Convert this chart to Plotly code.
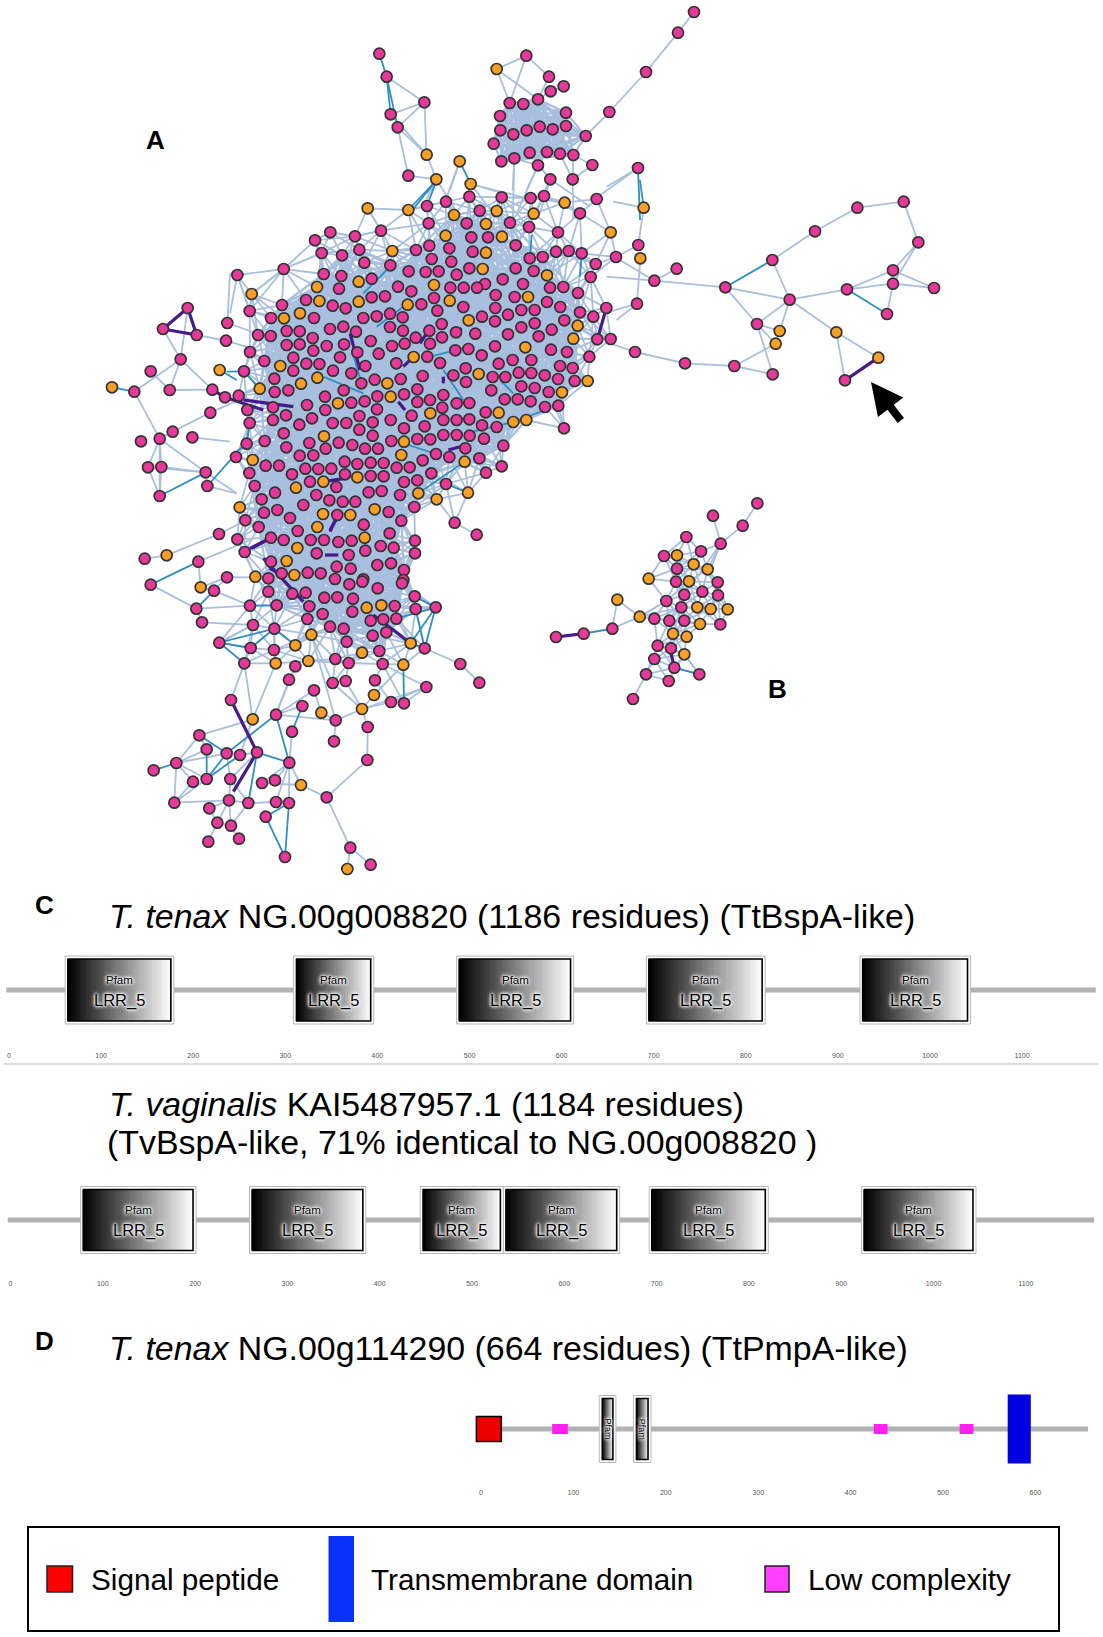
import numpy as np
import plotly.graph_objects as go

PAGE_W, PAGE_H = 1103, 1637

core_origin = (230, 180)
core_pink = [
    (591,78),(648,65),(718,50),(815,52),(902,54),(942,48),(1100,57),(749,92),(1050,100),
    (453,152),(596,130),(710,130),(840,128),(897,141),(301,157),(984,157),(724,172),(774,172),(375,169),(255,181),
    (857,196),(598,197),(658,205),(558,210),(728,215),(388,209),(275,219),(336,226),(605,237),(978,215),(1016,213),(1055,220),(899,235),(938,231),(1158,231),
    (161,267),(22,285),(403,248),(481,256),(664,245),(718,265),(857,265),(911,273),(1097,252),(536,274),(587,276),(626,274),(680,284),(281,282),(334,288),(425,296),(818,298),(765,312),(1082,291),
    (504,320),(879,312),(661,323),(701,323),(741,323),(960,323),(1000,321),(327,326),(544,334),(1044,339),(797,345),(854,351),(425,352),(465,349),(228,360),(612,354),
    (156,375),(574,373),(308,377),(347,385),(700,381),(796,384),(951,366),(991,381),(874,390),(914,390),(59,393),(622,392),(1129,384),(1050,397),(1090,410),(480,401),(834,404),(756,410),(518,412),(400,414),(440,409),(123,414),(252,414),
    (795,424),(1003,421),(635,432),(914,430),(340,440),(300,447),(480,441),(874,442),(965,449),(519,452),(378,455),(598,452),(170,453),(209,454),(678,457),(736,461),(834,463),(84,465),(122,468),(248,474),(636,472),(557,473),(926,469),(1102,478),(1142,477),
    (422,483),(342,493),(290,498),(486,498),(524,491),(600,491),(170,495),(209,493),(795,499),(676,511),(715,507),(60,516),(250,512),(382,517),(963,509),(1011,516),(446,521),(592,530),(755,526),(1078,530),(190,533),(330,532),(103,543),(904,540),
    (848,540),(229,551),(268,552),(406,558),(499,550),(630,549),(806,551),(990,558),(707,565),(1028,564),(42,574),(190,572),(309,572),(364,580),(670,586),(788,591),(578,588),(826,591),(866,578),(904,579),(944,586),(984,597),(133,596),(434,599),(512,597),(1034,603),
    (394,610),(708,606),(134,636),(175,631),(874,619),(914,624),(956,636),(784,631),(562,628),(341,631),(285,650),(442,649),(522,643),(26,647),(640,645),(863,658),(824,658),(902,664),
    (364,668),(404,664),(562,666),(600,660),(718,669),(680,670),(637,683),(129,682),(231,675),(945,681),(985,677),(52,690),(286,690),(441,688),(767,697),(545,707),(168,706),(640,720),(680,720),(718,718),(482,720),(246,715),(59,729),(388,708),
    (129,720),(208,734),(308,729),(349,729),(756,736),(800,741),(1002,745),(584,739),(522,745),(388,749),(428,727),(161,760),(680,765),(640,765),(719,767),(428,767),(104,783),(762,776),(601,778),(562,777),(484,783),
    (50,791),(238,789),(326,788),(367,795),(169,802),(287,806),(405,806),(444,806),(706,805),(820,797),(618,822),(209,827),(250,826),(18,831),(658,831),(748,835),(578,841),(344,845),(382,852),(422,848),(461,849),
    (107,857),(147,857),(226,866),(265,867),(304,866),(500,863),(539,862),(815,859),(58,879),(768,878),(186,883),(345,883),(422,888),(461,889),(604,880),
    (240,905),(522,906),(562,901),(74,918),(319,921),(648,912),(416,937),(455,933),(135,938),(510,945),(259,945),
    (95,958),(298,961),(338,965),(376,965),(220,975),(553,981),(142,990),(476,996),(102,998),(322,1005),(180,1014),(514,1022),(46,1021),
    (674,1028),(401,1034),(86,1041),(203,1053),(479,1060),(740,1064),(123,1073),(22,1078),(161,1080),(242,1080),(282,1080),(325,1086),(365,1082),(555,1082),
    (452,1098),(491,1103),(44,1116),(260,1120),(406,1112),(555,1120),(356,1125),(123,1145),(442,1155),(483,1150),(320,1160),(362,1166),(522,1170),(155,1180),(233,1178),(272,1180),(115,1195),(400,1198),(520,1200),
]
core_orange = [
    (413,85),(535,90),(1004,68),(672,105),(800,93),(911,101),(768,132),(1142,157),(647,167),(816,170),(487,213),(768,218),(758,267),(386,305),(951,286),
    (612,315),(261,321),(65,342),(894,351),(268,363),(386,365),(659,362),(533,374),(210,400),(162,415),(716,421),(1043,437),(1030,476),(886,502),(551,531),
    (151,558),(746,582),(262,593),(1073,603),(472,610),(213,611),(89,626),(996,637),(482,650),(324,670),(806,698),(601,700),(850,726),(889,720),(282,769),(522,785),
    (514,825),(68,840),(704,845),(382,892),(280,905),(198,923),(565,940),(714,938),(620,958),(29,982),(434,988),(279,1002),(361,1005),(262,1041),(404,1073),
    (202,1104),(170,1143),(193,1185),(76,1190),
]

south_origin = (100, 500)
south_mid_pink = [
    (705,237),(748,253),(787,245),(833,265),(906,250),(505,275),(577,281),(617,278),(673,293),(712,292),(759,296),(450,317),(530,316),(628,319),(944,289),(1007,322),(947,327),(884,318),(757,335),(668,342),(622,357),(812,362),(850,358),(889,356),(459,375),(523,386),(690,380),(731,386),(859,397),(818,407),(740,425),(358,428),(452,444),(522,450),(974,445),(838,453),(706,477),(746,489),(848,492),(433,490),
]
south_mid_orange = [(844,316),(800,323),(634,404),(586,436),(932,430),(786,458),(910,494),(527,490),(625,483)]
south_low_pink = [
    (357,102),(134,176),(295,185),(381,232),(152,254),(342,272),(289,326),(306,367),
    (1081,492),(586,499),(567,539),(698,549),(737,543),(825,541),(979,561),(1138,548),(642,571),(873,606),(912,610),(393,600),(607,618),(528,644),(707,661),(803,681),(576,695),(702,724),(298,706),(320,748),(380,760),(420,765),(471,757),(229,789),(161,811),(568,788),(802,780),(279,845),(320,837),(391,837),(486,849),(525,841),(680,892),(223,908),(387,901),(445,909),(528,906),(567,909),(328,925),(497,950),(352,968),(393,977),(325,1025),(417,1016),(555,1071),(751,1043),(812,1094),
]
south_low_orange = [(200,166),(302,262),(822,585),(664,638),(786,627),(458,658),(603,855),(742,1107)]

west_origin = (90, 240)
west_pink = [(293,204),(219,267),(320,285),(412,249),(408,302),(272,358),(182,394),(133,455),(239,450),(367,449),(405,472),(361,518),(248,575),(153,604),(209,596),(307,592),(174,682),(214,681),(347,697),(352,738),(209,768)]
west_orange = [(66,442),(389,390)]

north_origin = (360, 0)
north_pink = [(58,161),(80,230),(193,307),(92,343),(113,382),(145,527),(499,167),(567,230),(611,259),(572,274),(534,298),(449,309),(490,312),(618,338),(420,348),(748,336),(858,216),(954,98),(1002,36),(421,391),(460,403),(500,391),(539,380),(578,388),(618,378),(677,408),(401,431),(424,484),(463,475),(509,458),(561,456),(600,461),(640,465),(697,495),(534,496),(571,538),(638,538),(834,504)]
north_orange = [(200,464),(229,538),(299,484),(332,552),(410,207)]
# the dense block at the top of the network, linked all-to-all below
north_block = [(449,309),(490,312),(534,298),(618,338),(420,348),(421,391),(460,403),(500,391),(539,380),(578,388),(618,378),(677,408),(401,431),(424,484),(463,475),(509,458),(561,456),(600,461),(640,465)]

east_origin = (620, 180)
east_pink = [(55,195),(103,302),(170,266),(51,371),(45,516),(195,550),(343,558),(458,583),(411,432),(316,322),(457,240),(509,359),(585,154),(712,83),(851,65),(895,187),(819,271),(819,311),(942,324),(681,328),(801,402),(675,601)]
east_orange = [(71,83),(61,235),(479,453),(467,491),(649,457),(775,533)]

b_origin = (540, 490)
b_pink = [(652,40),(519,77),(608,107),(542,161),(439,141),(372,198),(483,184),(411,236),(408,275),(533,277),(433,314),(487,305),(534,316),(379,333),(424,352),(343,386),(388,392),(433,392),(541,403),(217,416),(131,431),(48,441),(353,467),(393,475),(343,507),(403,533),(478,553),(318,553),(386,573),(279,627)]
b_orange = [(411,196),(461,223),(503,238),(326,266),(447,274),(232,329),(472,352),(512,357),(563,358),(299,380),(480,402),(399,431),(440,440),(433,493)]

north_light = [((80,230),(193,307)),((92,343),(193,307)),((113,382),(193,307)),((193,307),(200,464)),((113,382),(200,464)),((92,343),(200,464)),((113,382),(145,527)),((200,464),(229,538)),((145,527),(229,538)),((299,484),(270,570)),((332,552),(430,580)),((410,207),(499,167)),((410,207),(449,309)),((410,207),(534,298)),((499,167),(449,309)),((499,167),(567,230)),((567,230),(534,298)),((1002,36),(954,98)),((954,98),(858,216)),((858,216),(748,336)),((748,336),(677,408)),((697,495),(640,465)),((534,496),(571,538)),((640,465),(638,538)),((600,461),(638,538)),((463,475),(458,570)),((534,496),(500,570)),((571,538),(555,570)),((697,495),(638,538)),((534,496),(463,475)),((534,496),(561,456)),((571,538),(509,458)),((677,408),(640,465)),
    ((834,504),(740,560)),((229,538),(300,650)),((229,538),(190,620)),((332,552),(400,640)),((332,552),(520,600)),((299,484),(250,620)),((463,475),(458,680)),((534,496),(470,640)),((571,538),(540,640)),((638,538),(640,660)),((571,538),(690,620)),((834,504),(700,600)),((611,259),(572,274)),((572,274),(534,298))]
north_dark = [((58,161),(80,230)),((80,230),(92,343)),((80,230),(113,382)),((229,538),(200,580)),((229,538),(150,640)),((299,484),(332,552)),((834,504),(840,660))]

east_light = [((71,83),(-20,65)),((71,83),(55,195)),((55,195),(-10,230)),((61,235),(51,371)),((103,302),(170,266)),((103,302),(316,322)),((103,302),(-40,290)),((103,302),(0,240)),((-30,395),(51,371)),((51,371),(-10,420)),((45,516),(-30,490)),((45,516),(195,550)),((195,550),(343,558)),((343,558),(458,583)),((343,558),(467,491)),((458,583),(411,432)),((411,432),(509,359)),((411,432),(479,453)),((411,432),(467,491)),((316,322),(411,432)),((316,322),(509,359)),((457,240),(509,359)),((457,240),(585,154)),((585,154),(712,83)),((712,83),(851,65)),((851,65),(895,187)),((895,187),(819,271)),((895,187),(819,311)),((819,271),(681,328)),((819,311),(681,328)),((819,271),(942,324)),((819,311),(942,324)),((819,311),(801,402)),((681,328),(509,359)),((509,359),(649,457)),((509,359),(479,453)),((649,457),(775,533)),((649,457),(675,601))]
east_dark = [((71,83),(60,0)),((316,322),(457,240)),((681,328),(801,402))]
east_purple = [((775,533),(675,601))]

west_light = [((219,267),(272,358)),((293,204),(272,358)),((320,285),(408,302)),((272,358),(133,455)),((272,358),(239,450)),((272,358),(367,449)),((182,394),(239,450)),((133,455),(209,596)),((239,450),(367,449)),((361,518),(248,575)),((248,575),(209,596)),((307,592),(420,605)),((209,596),(174,682)),((209,596),(214,681)),((209,596),(209,768)),((209,596),(347,697)),((174,682),(209,768)),((214,681),(209,768)),((214,681),(347,697)),((174,682),(347,697)),((347,697),(352,738)),((408,302),(500,330)),((347,697),(440,760)),((352,738),(440,760)),((412,249),(420,100)),((412,249),(500,280)),((361,518),(470,470))]
west_dark = [((66,442),(133,455)),((389,390),(440,420)),((209,768),(347,697)),((352,738),(430,650))]
west_purple = [((293,204),(219,267)),((219,267),(320,285)),((293,204),(320,285)),((367,449),(405,472)),((405,472),(520,510))]

core_light = [((22,285),(161,267)),((161,267),(255,181)),((161,267),(275,219)),((22,285),(59,393)),((65,342),(161,267)),((59,393),(161,267)),((22,285),(0,400)),((301,157),(375,169)),((375,169),(453,152)),((453,152),(596,130)),((413,85),(453,152)),((255,181),(301,157)),((255,181),(336,226)),((487,213),(596,130)),((65,342),(59,393))]
core_dark = [((535,90),(620,0)),((591,78),(620,0)),((440,440),(520,380)),((365,510),(395,610)),((280,590),(400,640)),((600,530),(720,500)),((520,790),(618,822)),((700,660),(640,570)),((810,600),(850,640)),((850,726),(945,690)),((705,760),(850,726)),((565,940),(704,845)),((648,912),(714,938)),((-10,575),(42,574)),((42,574),(89,626)),((59,729),(50,791)),((50,791),(0,830)),((1055,220),(1050,290)),((470,270),(400,340)),((905,165),(900,235))]
core_purple = [((360,460),(390,570)),((520,560),(550,530)),((505,665),(525,690)),((570,490),(590,460)),((640,590),(640,610)),((695,445),(678,457)),((655,810),(690,800)),((280,905),(345,895)),((65,1105),(120,1075)),((300,1050),(322,1010)),((285,1125),(325,1125)),((118,1165),(140,1175)),((1129,384),(1102,478)),((40,660),(190,680))]

south_light = [((433,490),(393,600)),((433,490),(458,658)),((527,490),(458,658)),((567,539),(528,644)),((586,499),(528,644)),((642,571),(528,644)),((642,571),(664,638)),((607,618),(528,644)),((528,644),(707,661)),((458,658),(298,706)),((458,658),(420,765)),((576,695),(568,788)),((420,765),(471,757)),((298,706),(229,789)),((298,706),(320,748)),((229,789),(320,748)),((229,789),(380,760)),((229,789),(223,908)),((229,789),(279,845)),((229,789),(320,837)),((223,908),(320,837)),((223,908),(279,845)),((223,908),(387,901)),((380,760),(391,837)),((391,837),(471,757)),((387,901),(391,837)),((387,901),(445,909)),((387,901),(328,925)),((387,901),(352,968)),((387,901),(393,977)),((391,837),(445,909)),((445,909),(393,977)),((445,909),(528,906)),((486,849),(568,788)),((525,841),(568,788)),((486,849),(603,855)),((568,788),(603,855)),((568,788),(528,906)),((568,788),(567,909)),((603,855),(680,892)),((680,892),(802,780)),((802,780),(803,681)),((803,681),(786,627)),((680,892),(751,1043)),((751,1043),(742,1107)),((751,1043),(812,1094)),((528,906),(567,909)),((352,968),(325,1025)),((393,977),(417,1016)),((352,968),(393,977)),((328,925),(352,968)),((707,661),(702,724)),((707,661),(664,638)),((707,661),(786,627)),((786,627),(873,606)),((786,627),(822,585)),((786,627),(979,561)),((873,606),(979,561)),((912,610),(979,561)),((822,585),(910,494)),((848,492),(979,561)),((848,492),(912,610)),((825,541),(873,606)),((825,541),(848,492)),((698,549),(786,627)),((737,543),(786,627)),((698,549),(746,489)),((737,543),(746,489)),((706,477),(698,549)),((634,404),(707,661)),((634,404),(698,549)),((974,445),(1081,492)),((1081,492),(1138,548)),((289,326),(450,317)),((289,326),(306,367)),((289,326),(152,254)),((295,185),(302,262)),((381,232),(342,272)),((342,272),(302,262)),((302,262),(381,232)),((342,272),(450,317)),((200,166),(357,102)),((134,176),(200,166)),((357,102),(440,60)),((381,232),(466,232)),((306,367),(459,375)),((358,428),(459,375)),((358,428),(450,317)),((295,185),(450,120))]
south_dark = [((528,644),(568,788)),((528,644),(380,760)),((607,618),(576,695)),((471,757),(568,788)),((298,706),(380,760)),((229,789),(161,811)),((320,748),(320,837)),((380,760),(320,837)),((420,765),(320,837)),((471,757),(445,909)),((497,950),(567,909)),((497,950),(555,1071)),((567,909),(555,1071)),((912,610),(910,494)),((974,445),(932,430)),((974,445),(1007,322)),((932,430),(1007,322)),((947,327),(974,445)),((1007,322),(889,356)),((944,289),(1007,322)),((358,428),(452,444)),((358,428),(523,386)),((358,428),(433,490)),((452,444),(523,386)),((523,386),(586,436)),((450,317),(530,316)),((152,254),(295,185)),((342,272),(289,326))]
south_purple = [((820,345),(932,430)),((393,600),(471,757)),((471,757),(400,875)),((490,175),(610,305)),((450,145),(510,115)),((690,95),(707,60))]

b_light = [((542,161),(510,240)),((439,141),(411,196)),((299,380),(379,333)),((424,352),(299,380)),((478,553),(433,493)),((433,314),(542,161))]
b_dark = [((217,416),(131,431)),((478,553),(403,533))]
b_purple = [((131,431),(48,441)),((403,533),(393,490))]

# ---------- Domain tracks (residues) ----------

tick_residues = list(range(0, 1200, 100))
tick_labels_d = list(range(0, 700, 100))

tenax_domains = [(61, 179), (309, 396), (486, 613), (692, 821), (924, 1044)]
vaginalis_domains = [(76, 201), (259, 385), (444, 534), (534, 660), (692, 821), (922, 1046)]
pmpa_pfam = [(128, 146), (165, 184)]
pmpa_low_complexity = [(77, 94), (425, 440), (518, 533)]
pmpa_signal = (-5, 22)
pmpa_tm = (570, 595)

title_tenax = "<i>T. tenax</i> NG.00g008820 (1186 residues) (TtBspA-like)"
title_vag1 = "<i>T. vaginalis</i> KAI5487957.1 (1184 residues)"
title_vag2 = "(TvBspA-like, 71% identical to NG.00g008820 )"
title_pmpa = "<i>T. tenax</i> NG.00g114290 (664 residues) (TtPmpA-like)"

legend_labels = ["Signal peptide", "Transmembrane domain", "Low complexity"]

# ---------- Helpers ----------

def to_page(points, origin):
    return [(origin[0] + x / 3, origin[1] + y / 3) for x, y in points]

def edges_to_page(edges, origin):
    return [(origin[0] + a[0] / 3, origin[1] + a[1] / 3, origin[0] + b[0] / 3, origin[1] + b[1] / 3) for a, b in edges]

# Light edges inside the dense parts cannot be traced one by one: they are linked by node distance.
def near_links(points, max_dist):
    pts = np.array(points)
    out = []
    for i in range(len(pts)):
        d = np.hypot(*(pts[i + 1:] - pts[i]).T)
        for j in np.nonzero(d < max_dist)[0]:
            out.append((pts[i][0], pts[i][1], pts[i + 1 + j][0], pts[i + 1 + j][1]))
    return out

# crowded nodes make the solid haze, the ones on the fringe only reach their close neighbours
def split_crowded(points, radius, min_count):
    pts = np.array(points)
    dist = np.hypot(pts[:, 0, None] - pts[:, 0], pts[:, 1, None] - pts[:, 1])
    counts = (dist < radius).sum(axis=1) - 1
    return [tuple(p) for p in pts[counts >= min_count]]

def edge_trace(segments, color, width):
    xs, ys = [], []
    for x0, y0, x1, y1 in segments:
        xs += [x0, x1, None]
        ys += [y0, y1, None]
    return go.Scatter(x=xs, y=ys, mode='lines', line=dict(color=color, width=width), hoverinfo='skip', showlegend=False)

def node_trace(points, color):
    return go.Scatter(
        x=[p[0] for p in points], y=[p[1] for p in points], mode='markers',
        marker=dict(size=11, color=color, line=dict(color='#333333', width=1.7)),
        hoverinfo='skip', showlegend=False
    )

# ---------- Figure ----------

fig = go.Figure()

core_nodes = to_page(core_pink + core_orange, core_origin) + to_page(south_mid_pink + south_mid_orange, south_origin)
b_nodes = to_page(b_pink + b_orange, b_origin)
block_nodes = to_page(north_block, north_origin)
crowded_nodes = split_crowded(core_nodes, 36, 10)

haze = near_links(crowded_nodes, 56) + near_links(block_nodes, 90)
light = near_links(core_nodes, 42) + near_links(b_nodes, 31)
light += edges_to_page(north_light, north_origin) + edges_to_page(east_light, east_origin)
light += edges_to_page(west_light, west_origin) + edges_to_page(south_light, south_origin)
light += edges_to_page(b_light, b_origin) + edges_to_page(core_light, core_origin)
dark = edges_to_page(north_dark, north_origin) + edges_to_page(east_dark, east_origin) + edges_to_page(west_dark, west_origin)
dark += edges_to_page(core_dark, core_origin) + edges_to_page(south_dark, south_origin) + edges_to_page(b_dark, b_origin)
purple = edges_to_page(east_purple, east_origin) + edges_to_page(west_purple, west_origin)
purple += edges_to_page(core_purple, core_origin) + edges_to_page(south_purple, south_origin) + edges_to_page(b_purple, b_origin)

fig.add_trace(edge_trace(haze, '#a9bfde', 2.2))
fig.add_trace(edge_trace(light, '#a9bfde', 1.8))
fig.add_trace(edge_trace(dark, '#2f8fc2', 1.8))
fig.add_trace(edge_trace(purple, '#451a8c', 3.2))

pink_nodes = (to_page(core_pink, core_origin) + to_page(south_mid_pink + south_low_pink, south_origin)
              + to_page(west_pink, west_origin) + to_page(north_pink, north_origin)
              + to_page(east_pink, east_origin) + to_page(b_pink, b_origin))
orange_nodes = (to_page(core_orange, core_origin) + to_page(south_mid_orange + south_low_orange, south_origin)
                + to_page(west_orange, west_origin) + to_page(north_orange, north_origin)
                + to_page(east_orange, east_origin) + to_page(b_orange, b_origin))
fig.add_trace(node_trace(pink_nodes, '#e8399b'))
fig.add_trace(node_trace(orange_nodes, '#f9a024'))

shapes = []
annotations = []

def text_at(x, y, text, size, bold=False, anchor='left', color='black'):
    annotations.append(dict(
        x=x, y=y, xref='x', yref='y', text=f"<b>{text}</b>" if bold else text, showarrow=False,
        xanchor=anchor, yanchor='middle', font=dict(family='Liberation Sans', size=size, color=color)
    ))

text_at(155, 140, 'A', 26, bold=True, anchor='center')
text_at(777, 689, 'B', 26, bold=True, anchor='center')
text_at(44, 905, 'C', 26, bold=True, anchor='center')
text_at(44, 1341, 'D', 26, bold=True, anchor='center')
text_at(107, 916, title_tenax, 33.9)
text_at(107, 1104, title_vag1, 33.9)
text_at(105, 1142, title_vag2, 33.9)
text_at(107, 1348, title_pmpa, 33.9)

annotations.append(dict(
    x=871, y=382, ax=902, ay=422, xref='x', yref='y', axref='x', ayref='y', text='', showarrow=True,
    arrowhead=2, arrowsize=0.8, arrowwidth=8, arrowcolor='black'
))

shapes.append(dict(type='line', xref='x', yref='y', x0=4, x1=1098, y0=1064, y1=1064, line=dict(color='#dddddd', width=2)))

# one residue axis per track; each y axis is in page pixels around the track's centre line
def add_track(n, x0_px, px_per_res, top_px, bottom_px, centre_px, ticks, line_start, line_end):
    left_res = -x0_px / px_per_res
    right_res = (PAGE_W - x0_px) / px_per_res
    fig.update_layout({
        f'xaxis{n}': dict(domain=[0, 1], range=[left_res, right_res], anchor=f'y{n}', tickmode='array', tickvals=ticks,
                          ticks='', showgrid=False, zeroline=False, showline=False,
                          tickfont=dict(family='Liberation Sans', size=7, color='#555555')),
        f'yaxis{n}': dict(domain=[1 - bottom_px / PAGE_H, 1 - top_px / PAGE_H], range=[centre_px - bottom_px, centre_px - top_px],
                          anchor=f'x{n}', visible=False),
    })
    shapes.append(dict(type='rect', layer='below', xref=f'x{n}', yref=f'y{n}', x0=line_start, x1=line_end, y0=-2.5, y1=2.5,
                       fillcolor='#b2b2b2', line=dict(width=0)))

def add_box(n, start, end, half_h, px_per_res, rotated=False):
    inset = 3 / px_per_res
    xs = np.linspace(start + inset, end - inset, 48)
    fig.add_trace(go.Heatmap(
        x=xs, y=[-half_h + 3, half_h - 3], z=[xs], xaxis=f'x{n}', yaxis=f'y{n}',
        colorscale=[[0, '#000000'], [1, '#ffffff']], showscale=False, hoverinfo='skip'
    ))
    shapes.append(dict(type='rect', layer='below', xref=f'x{n}', yref=f'y{n}', x0=start, x1=end, y0=-half_h, y1=half_h,
                       fillcolor='white', line=dict(color='#b8b8b8', width=1)))
    shapes.append(dict(type='rect', xref=f'x{n}', yref=f'y{n}', x0=start + inset, x1=end - inset, y0=-half_h + 3, y1=half_h - 3,
                       line=dict(color='black', width=1.6)))
    mid = (start + end) / 2
    glow = '0 0 2px white, 0 0 3px white, 0 0 4px white, 0 0 4px white'
    if rotated:
        annotations.append(dict(x=mid, y=0, xref=f'x{n}', yref=f'y{n}', text='Pfam', textangle=90, showarrow=False,
                                font=dict(family='Liberation Sans', size=9, color='black', shadow=glow)))
    else:
        annotations.append(dict(x=mid, y=10, xref=f'x{n}', yref=f'y{n}', text='Pfam', showarrow=False,
                                font=dict(family='Liberation Sans', size=11.5, color='black', shadow=glow)))
        annotations.append(dict(x=mid, y=-10, xref=f'x{n}', yref=f'y{n}', text='LRR_5', showarrow=False,
                                font=dict(family='Liberation Sans', size=16.5, color='black', shadow=glow)))

add_track(2, 9, 0.921, 950, 1050, 990, tick_residues, -3, 1180)
for start, end in tenax_domains:
    add_box(2, start, end, 34, 0.921)

add_track(3, 10.5, 0.923, 1180, 1278, 1220, tick_residues, -3, 1174)
for start, end in vaginalis_domains:
    add_box(3, start, end, 33.5, 0.923)

add_track(4, 481, 0.924, 1390, 1487, 1429, tick_labels_d, 0, 657)
for start, end in pmpa_pfam:
    add_box(4, start, end, 33.5, 0.924, rotated=True)
for start, end in pmpa_low_complexity:
    shapes.append(dict(type='rect', xref='x4', yref='y4', x0=start, x1=end, y0=-5, y1=5, fillcolor='#ff22ee', line=dict(width=0)))
shapes.append(dict(type='rect', xref='x4', yref='y4', x0=pmpa_signal[0], x1=pmpa_signal[1], y0=-12.5, y1=12.5,
                   fillcolor='#ee0000', line=dict(color='black', width=1.5)))
shapes.append(dict(type='rect', xref='x4', yref='y4', x0=pmpa_tm[0], x1=pmpa_tm[1], y0=-34.5, y1=34.5,
                   fillcolor='#0000e0', line=dict(width=0)))

# legend box drawn on the page axis
shapes.append(dict(type='rect', xref='x', yref='y', x0=28, x1=1059, y0=1527, y1=1631, line=dict(color='black', width=2)))
shapes.append(dict(type='rect', xref='x', yref='y', x0=47, x1=72.5, y0=1566, y1=1592, fillcolor='#ff0000', line=dict(color='#222222', width=1.5)))
shapes.append(dict(type='rect', xref='x', yref='y', x0=328.5, x1=354, y0=1536, y1=1622, fillcolor='#0a32ff', line=dict(width=0)))
shapes.append(dict(type='rect', xref='x', yref='y', x0=765, x1=789, y0=1566, y1=1592, fillcolor='#ff40ff', line=dict(color='#222222', width=1.5)))
text_at(89, 1579, legend_labels[0], 29.7)
text_at(369, 1579, legend_labels[1], 29.7)
text_at(805.5, 1579, legend_labels[2], 29.7)

fig.update_layout(
    width=PAGE_W, height=PAGE_H, margin=dict(l=0, r=0, t=0, b=0),
    paper_bgcolor='white', plot_bgcolor='white', showlegend=False,
    xaxis=dict(domain=[0, 1], range=[0, PAGE_W], visible=False),
    yaxis=dict(domain=[0, 1], range=[PAGE_H, 0], visible=False),
    shapes=shapes, annotations=annotations
)

fig.write_html("out.html", config=dict(displayModeBar=False), post_script="document.body.style.margin='0';")
